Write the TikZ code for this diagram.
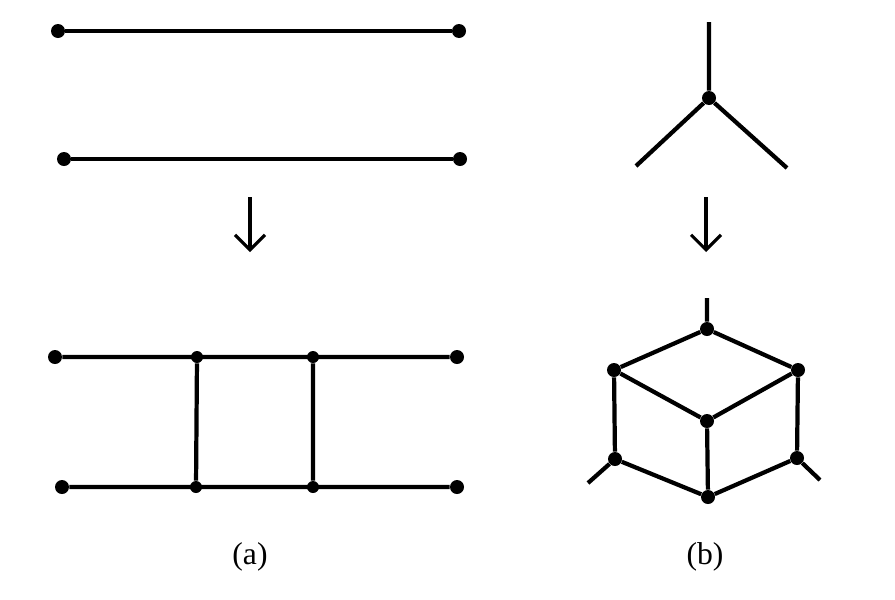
\documentclass[tikz,border=0pt]{standalone}
\usepackage{fontspec}
\setmainfont{Liberation Serif}
\usetikzlibrary{arrows.meta}
\tikzset{
  dot/.style={circle,fill,inner sep=0pt,minimum size=0.28cm},
  sdot/.style={circle,fill,inner sep=0pt,minimum size=0.24cm},
  edge/.style={line width=2.4pt},
  down/.style={line width=1.8pt,-{Straight Barb[length=3mm,width=6mm,line width=1.8pt]}},
  lab/.style={font=\fontsize{18}{21}\selectfont}
}
\begin{document}
\begin{tikzpicture}[x=0.02cm,y=-0.02cm]
  \useasboundingbox (0,0) rectangle (895,599);
  % (a)
  \node[dot] (a1) at (58,31) {};
  \node[dot] (a2) at (459,31) {};
  \node[dot] (a3) at (64,159) {};
  \node[dot] (a4) at (460,159) {};
  \draw[edge] (a1)--(a2) (a3)--(a4);
  \coordinate (ua) at (250,197);
  \coordinate (va) at (250,252);
  \draw[down] (ua)--(va);
  \node[dot] (p1) at (55,357) {};
  \node[sdot] (p2) at (197,357) {};
  \node[sdot] (p3) at (313,357) {};
  \node[dot] (p4) at (457,357) {};
  \node[dot] (q1) at (62,487) {};
  \node[sdot] (q2) at (196,487) {};
  \node[sdot] (q3) at (313,487) {};
  \node[dot] (q4) at (457,487) {};
  \draw[edge] (p1)--(p4) (q1)--(q4) (p2)--(q2) (p3)--(q3);
  \node[lab] (la) at (250,557) {(a)};
  % (b)
  \node[dot] (c) at (709,98) {};
  \coordinate (y1) at (709,22);
  \coordinate (y2) at (636,166);
  \coordinate (y3) at (787,168);
  \draw[edge] (c)--(y1) (c)--(y2) (c)--(y3);
  \coordinate (ub) at (706,197);
  \coordinate (vb) at (706,252);
  \draw[down] (ub)--(vb);
  \node[dot] (t) at (707,329) {};
  \node[dot] (l) at (614,370) {};
  \node[dot] (r) at (798,370) {};
  \node[dot] (m) at (707,421) {};
  \node[dot] (ll) at (615,459) {};
  \node[dot] (lr) at (797,458) {};
  \node[dot] (b) at (708,497) {};
  \coordinate (s1) at (707,298);
  \coordinate (s2) at (588,483);
  \coordinate (s3) at (820,480);
  \draw[edge] (t)--(s1) (ll)--(s2) (lr)--(s3)
    (t)--(l) (t)--(r) (l)--(m) (r)--(m) (m)--(b)
    (l)--(ll) (r)--(lr) (ll)--(b) (lr)--(b);
  \node[lab] (lb) at (705,557) {(b)};
\end{tikzpicture}
\end{document}
